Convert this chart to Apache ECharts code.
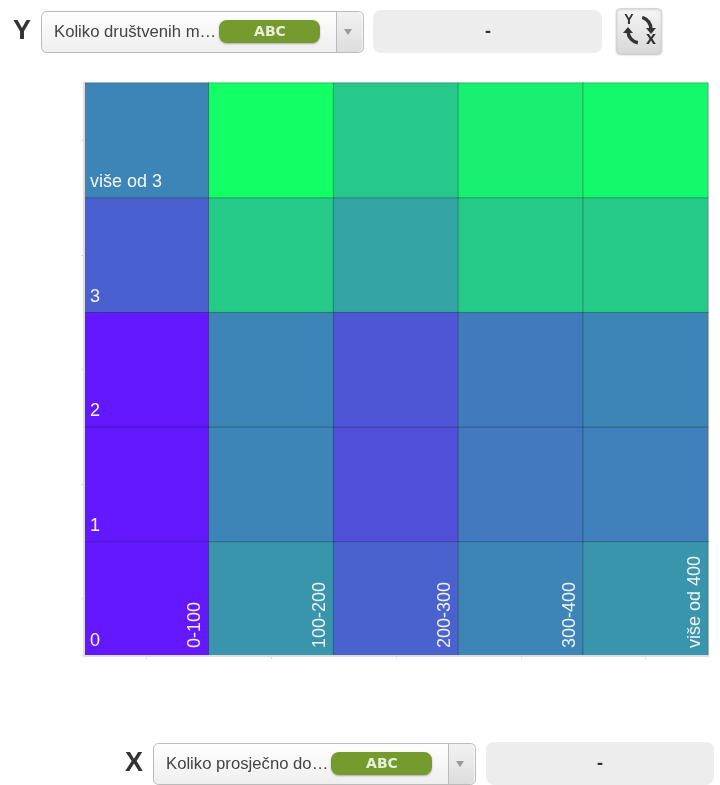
<!DOCTYPE html>
<html>
<head>
<meta charset="utf-8">
<style>html,body{margin:0;padding:0;background:#fff}#c{width:720px;height:785px}</style>
<script src="https://cdn.jsdelivr.net/npm/echarts@6/dist/echarts.min.js"></script>
</head>
<body>
<div id="c"></div>
<script>
const xCategories = ['0-100', '100-200', '200-300', '300-400', 'više od 400'];
const yCategories = ['0', '1', '2', '3', 'više od 3'];
const row0 = [0, 54, 32, 47, 54];
const row1 = [0, 47, 24, 42, 45];
const row2 = [0, 47, 27, 43, 47];
const row3 = [31, 77, 60, 77, 77];
const rowTop = [47, 100, 76, 93, 97];
const rows = [row0, row1, row2, row3, rowTop];
const yDropdownText = 'Koliko društvenih m…';
const xDropdownText = 'Koliko prosječno do…';
const typeBadge = 'ABC';

const data = [];
rows.forEach((r, y) => r.forEach((v, x) => data.push([x, y, v])));
const FONT = 'Liberation Sans';

function grad(a, b) {
  return new echarts.graphic.LinearGradient(0, 0, 0, 1, [{offset: 0, color: a}, {offset: 1, color: b}]);
}
function label(x, y, text, size, weight, fill, align, family) {
  return {type: 'text', x, y, style: {text, fontFamily: family || FONT, fontSize: size, fontWeight: weight, fill, align: align || 'center', verticalAlign: 'middle'}};
}
function control(axisName, axisX, text, left, top, grayLeft, grayRight, grayTop, grayBottom, dashX) {
  const h = 42, w = 322, midY = top + h / 2;
  return [
    label(axisX, midY, axisName, 27, 'bold', '#333'),
    {type: 'rect', shape: {x: left + .5, y: top + .5, width: w, height: h - 1, r: 5}, style: {fill: grad('#ffffff', '#eeeeee'), stroke: '#bbbbbb', lineWidth: 1}},
    label(left + 13, midY, text, 16.7, 'normal', '#444', 'left'),
    {type: 'rect', shape: {x: left + 178, y: top + 9, width: 101, height: 23, r: 8}, style: {fill: '#759b2e', shadowColor: 'rgba(0,0,0,0.3)', shadowBlur: 2, shadowOffsetY: 1}},
    label(left + 229, top + 21, typeBadge, 14, 'bold', '#e8efd8', 'center', 'DejaVu Sans'),
    {type: 'rect', shape: {x: left + 295, y: top + 1, width: 26, height: h - 2, r: [0, 5, 5, 0]}, style: {fill: grad('#f2f2f2', '#dddddd')}},
    {type: 'line', shape: {x1: left + 295.5, y1: top + 1, x2: left + 295.5, y2: top + h - 1}, style: {stroke: '#bbbbbb', lineWidth: 1}},
    {type: 'polygon', shape: {points: [[left + 303, midY - 3], [left + 311, midY - 3], [left + 307, midY + 3]]}, style: {fill: '#999999'}},
    {type: 'rect', shape: {x: grayLeft, y: grayTop, width: grayRight - grayLeft, height: grayBottom - grayTop, r: 8}, style: {fill: '#ededed'}},
    label(dashX, midY, '-', 18, 'bold', '#333')
  ];
}
const swapButton = [
  {type: 'rect', shape: {x: 616.5, y: 8.5, width: 45, height: 45, r: 4}, style: {fill: grad('#f6f6f6', '#d8d8d8'), stroke: '#d4d4d4', lineWidth: 1, shadowColor: 'rgba(0,0,0,0.2)', shadowBlur: 2, shadowOffsetY: 1}},
  label(629, 20, 'Y', 14, 'bold', '#333'),
  label(651, 39, 'x', 18, 'bold', '#333'),
  {type: 'arc', shape: {cx: 639, cy: 29, r: 12, startAngle: -1.3, endAngle: 0.05}, style: {stroke: '#333', fill: 'none', lineWidth: 3.5}},
  {type: 'polygon', shape: {points: [[646, 28], [656, 28], [651, 34]]}, style: {fill: '#333'}},
  {type: 'arc', shape: {cx: 640, cy: 31, r: 12, startAngle: 1.75, endAngle: 3.05}, style: {stroke: '#333', fill: 'none', lineWidth: 3.5}},
  {type: 'polygon', shape: {points: [[623, 33], [633, 33], [628, 27]]}, style: {fill: '#333'}}
];

const chart = echarts.init(document.getElementById('c'));
chart.setOption({
  animation: false,
  backgroundColor: '#fff',
  grid: {left: 84, top: 83, width: 624, height: 573, containLabel: false},
  xAxis: {
    type: 'category', data: xCategories, z: 5,
    splitArea: {show: false}, splitLine: {show: false},
    axisLine: {show: true, lineStyle: {color: '#dddddd', width: 2}},
    axisTick: {show: true, alignWithLabel: true, length: 3, lineStyle: {color: '#dddddd'}, inside: false},
    axisLabel: {
      inside: true, rotate: 90, interval: 0, color: '#f0f0f0', fontFamily: FONT, fontSize: 18,
      margin: 8, align: 'left', verticalAlign: 'top', padding: [40, 0, 0, 0]
    }
  },
  yAxis: {
    type: 'category', data: yCategories, z: 5,
    splitArea: {show: false}, splitLine: {show: false},
    axisLine: {show: true, lineStyle: {color: '#dddddd', width: 2}},
    axisTick: {show: true, alignWithLabel: true, length: 3, lineStyle: {color: '#dddddd'}},
    axisLabel: {
      inside: true, interval: 0, color: '#f5f5f5', fontFamily: FONT, fontSize: 18,
      margin: 6, align: 'left', verticalAlign: 'top', padding: [33, 0, 0, 0]
    }
  },
  visualMap: {
    show: false, type: 'continuous', min: 0, max: 100, dimension: 2,
    inRange: {color: ['#6418ff', '#12ff66']}
  },
  series: [{
    type: 'heatmap', data,
    itemStyle: {borderColor: 'rgba(0,0,0,0.25)', borderWidth: 1},
    emphasis: {disabled: true}
  }],
  graphic: {elements: [
    ...control('Y', 22, yDropdownText, 41, 11, 373, 602, 10, 53, 488),
    ...control('X', 134, xDropdownText, 153, 743, 486, 714, 742, 785, 600),
    ...swapButton
  ]}
});
</script>
</body>
</html>
